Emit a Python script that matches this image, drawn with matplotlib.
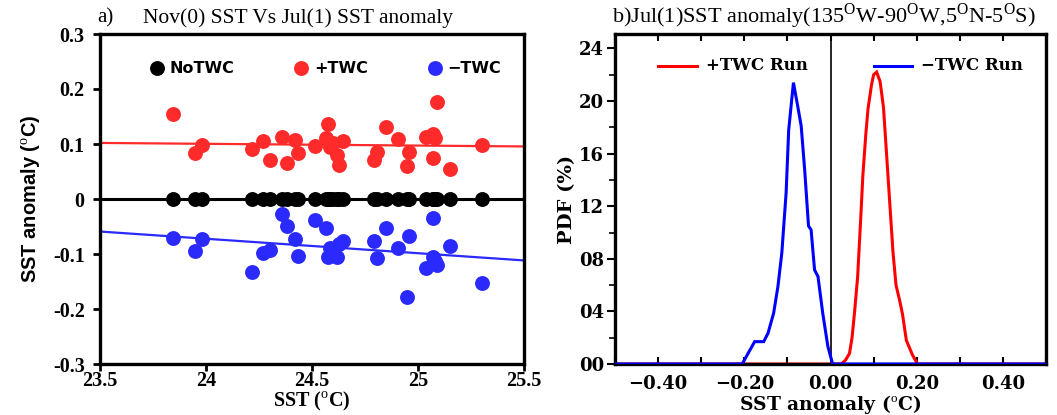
import numpy as np
import matplotlib
matplotlib.use("Agg")
import matplotlib.pyplot as plt
from matplotlib.ticker import MultipleLocator

plt.rcParams['mathtext.fontset'] = 'custom'
plt.rcParams['mathtext.rm'] = 'Liberation Serif'
plt.rcParams['axes.unicode_minus'] = False

# ---------------- data: panel a ----------------
nov_sst = [23.846, 23.948, 23.983, 24.218, 24.270, 24.302, 24.360, 24.384,
           24.422, 24.435, 24.514, 24.566, 24.574, 24.585, 24.600, 24.616,
           24.627, 24.645, 24.792, 24.808, 24.847, 24.907, 24.950, 24.959,
           25.038, 25.069, 25.072, 25.080, 25.088, 25.151, 25.300]
plus_twc = [0.155, 0.084, 0.099, 0.091, 0.105, 0.071, 0.113, 0.066,
            0.107, 0.084, 0.096, 0.110, 0.136, 0.095, 0.101, 0.080,
            0.062, 0.106, 0.071, 0.085, 0.131, 0.109, 0.060, 0.086,
            0.112, 0.074, 0.119, 0.110, 0.176, 0.054, 0.099]
minus_twc = [-0.070, -0.094, -0.072, -0.133, -0.098, -0.093, -0.028, -0.050,
             -0.073, -0.104, -0.039, -0.052, -0.105, -0.090, -0.095, -0.105,
             -0.082, -0.076, -0.076, -0.107, -0.053, -0.089, -0.179, -0.067,
             -0.126, -0.035, -0.105, -0.112, -0.120, -0.085, -0.152]
no_twc = [0.0] * len(nov_sst)

xticks_a = [23.5, 24, 24.5, 25, 25.5]
xticklabels_a = ["23.5", "24", "24.5", "25", "25.5"]
yticks_a = [-0.3, -0.2, -0.1, 0, 0.1, 0.2, 0.3]
yticklabels_a = ["-0.3", "-0.2", "-0.1", "0", "0.1", "0.2", "0.3"]

# ---------------- data: panel b ----------------
minus_x = [-0.50, -0.205, -0.176, -0.155, -0.145, -0.132, -0.122, -0.113,
           -0.103, -0.097, -0.086, -0.076, -0.068, -0.060, -0.051, -0.045,
           -0.037, -0.029, -0.018, -0.006, 0.005, 0.50]
minus_pdf = [0.0, 0.0, 1.70, 1.70, 2.34, 3.86, 5.89, 8.43,
             13.0, 17.8, 21.4, 19.6, 18.1, 14.8, 10.5, 10.2,
             7.16, 6.65, 3.86, 1.32, 0.0, 0.0]
plus_x = [-0.50, 0.025, 0.035, 0.044, 0.050, 0.056, 0.063, 0.070, 0.075,
          0.082, 0.087, 0.095, 0.100, 0.107, 0.115, 0.123, 0.130, 0.137,
          0.145, 0.152, 0.160, 0.167, 0.176, 0.190, 0.202, 0.50]
plus_pdf = [0.0, 0.0, 0.3, 0.8, 2.0, 4.0, 6.65, 11.0, 14.3,
            17.5, 19.4, 21.2, 22.0, 22.2, 21.5, 19.5, 16.0, 12.5,
            8.5, 6.0, 4.9, 3.8, 1.8, 0.7, 0.0, 0.0]

xticks_b = [-0.4, -0.2, 0.0, 0.2, 0.4]
xticklabels_b = ["\u22120.40", "\u22120.20", "0.00", "0.20", "0.40"]
yticks_b = [0, 4, 8, 12, 16, 20, 24]
yticklabels_b = ["00", "04", "08", "12", "16", "20", "24"]

RED = '#ff2a2a'
BLUE = '#2a2aff'

fig = plt.figure(figsize=(10.57, 4.15), dpi=100)

# ================= panel a =================
ax = fig.add_axes([100/1057, 51/415, 424/1057, 330/415])
ax.set_xlim(23.5, 25.5)
ax.set_ylim(-0.3, 0.3)

xs = np.array(nov_sst)
xfit = np.array([23.5, 25.5])
for yv, col in [(no_twc, 'black'), (plus_twc, RED), (minus_twc, BLUE)]:
    c = np.polyfit(xs, np.array(yv), 1)
    ax.plot(xfit, np.polyval(c, xfit), color=col, lw=1.6 if col != 'black' else 2.2, zorder=2)
ax.scatter(xs, no_twc, s=115, color='black', zorder=3, linewidths=0)
ax.scatter(xs, plus_twc, s=115, color=RED, zorder=3, linewidths=0)
ax.scatter(xs, minus_twc, s=115, color=BLUE, zorder=3, linewidths=0)

ax.set_xticks(xticks_a)
ax.set_xticklabels(xticklabels_a)
ax.set_yticks(yticks_a)
ax.set_yticklabels(yticklabels_a)
for lab in ax.get_xticklabels() + ax.get_yticklabels():
    lab.set_fontfamily('Liberation Serif')
    lab.set_fontweight('bold')
    lab.set_fontsize(14.5)
ax.tick_params(axis='x', direction='out', length=5, width=2, pad=0)
ax.tick_params(axis='y', direction='out', length=5, width=2, pad=6)
for s in ax.spines.values():
    s.set_linewidth(2.4)

ax.set_xlabel("SST ($^{\\rm o}$C)", fontfamily='Liberation Serif', fontweight='bold',
              fontsize=14.5, labelpad=-1)
ax.set_ylabel("SST anomaly ($^{\\rm o}$C)", fontfamily='Liberation Sans', fontweight='bold',
              fontsize=14.5, labelpad=8)

# legend
leg_y = 0.238
for lx, col, txt in [(23.77, 'black', 'NoTWC'), (24.45, RED, '+TWC'), (25.08, BLUE, '\u2212TWC')]:
    ax.scatter([lx], [leg_y], s=115, color=col, linewidths=0, zorder=3)
    ax.text(lx + 0.06, leg_y, txt, fontfamily='DejaVu Sans', fontweight='bold',
            fontsize=11.5, va='center', ha='left')

fig.text(97/1057, 1 - 18/415, "a)", fontfamily='Liberation Serif', fontsize=15, va='center')
fig.text(143/1057, 1 - 18/415, "Nov(0) SST Vs Jul(1) SST anomaly", fontfamily='Liberation Serif',
         fontsize=15.5, va='center')

# ================= panel b =================
bx = fig.add_axes([615/1057, 51/415, 431/1057, 330/415])
bx.set_xlim(-0.5, 0.5)
bx.set_ylim(0, 25.1)
bx.axvline(0, color='black', lw=1.2, zorder=1)
bx.plot(plus_x, plus_pdf, color='red', lw=2.2, zorder=2, solid_joinstyle='miter')
bx.plot(minus_x, minus_pdf, color='blue', lw=2.2, zorder=3, solid_joinstyle='miter')

bx.set_xticks(xticks_b)
bx.set_xticklabels(xticklabels_b)
bx.xaxis.set_minor_locator(MultipleLocator(0.1))
bx.set_yticks(yticks_b)
bx.set_yticklabels(yticklabels_b)
bx.yaxis.set_minor_locator(MultipleLocator(2))
for lab in bx.get_xticklabels() + bx.get_yticklabels():
    lab.set_fontfamily('DejaVu Serif')
    lab.set_fontweight('bold')
    lab.set_fontsize(13)
bx.tick_params(axis='x', which='both', direction='in', top=True, length=5, width=1.5, pad=8)
bx.tick_params(axis='y', which='major', direction='out', length=6, width=1.5, pad=2)
bx.tick_params(axis='y', which='minor', direction='out', length=4, width=1.2)
for s in bx.spines.values():
    s.set_linewidth(2.4)

bx.set_xlabel("SST anomaly ($^{\\rm o}$C)", fontfamily='DejaVu Serif', fontweight='bold',
              fontsize=13.5, labelpad=0)
bx.set_ylabel("PDF (%)", fontfamily='DejaVu Serif', fontweight='bold', fontsize=14, labelpad=2)

# legend lines
leg_by = 22.7
bx.plot([-0.40, -0.31], [leg_by, leg_by], color='red', lw=2.2)
bx.text(-0.29, leg_by, "+TWC Run", fontfamily='DejaVu Serif', fontweight='bold',
        fontsize=12, va='center', ha='left')
bx.plot([0.10, 0.19], [leg_by, leg_by], color='blue', lw=2.2)
bx.text(0.21, leg_by, "\u2212TWC Run", fontfamily='DejaVu Serif', fontweight='bold',
        fontsize=12, va='center', ha='left')

fig.text(612/1057, 1 - 16/415,
         "b)Jul(1)SST anomaly(135$^{\\mathrm{O}}$W-90$^{\\mathrm{O}}$W,5$^{\\mathrm{O}}$N-5$^{\\mathrm{O}}$S)",
         fontfamily='Liberation Serif', fontsize=16, va='center')

fig.savefig("out.png", dpi=100)
